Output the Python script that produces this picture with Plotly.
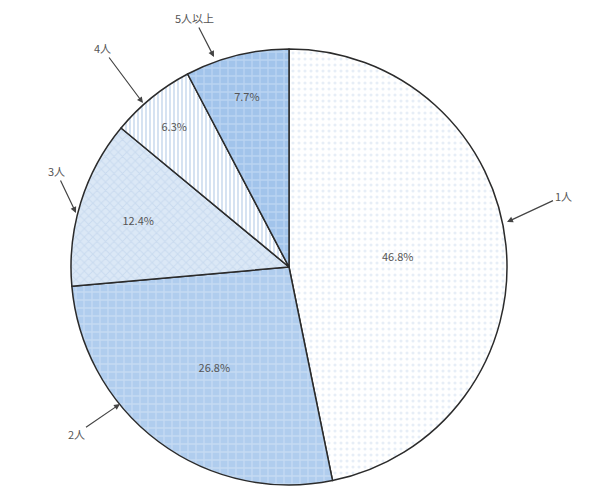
import plotly.graph_objects as go

labels = ["1人", "2人", "3人", "4人", "5人以上"]
values = [46.8, 26.8, 12.4, 6.3, 7.7]

# page offset: the browser body adds an 8px margin
OFF = 8
W, H = 593, 489

# pie centre and radius in page pixels
CX, CY, R = 289, 267, 218

# label position (page px) and arrow tip (page px) for outside labels
label_pos = {
    "1人": (563, 196),
    "2人": (76, 434),
    "3人": (56, 171),
    "4人": (102, 48),
    "5人以上": (194, 18),
}
arrow_tip = {
    "1人": (507, 222),
    "2人": (120, 404),
    "3人": (76, 213),
    "4人": (143, 103),
    "5人以上": (214, 57),
}

pie = go.Pie(
    labels=labels,
    values=values,
    sort=False,
    direction="clockwise",
    rotation=0,
    texttemplate="%{value:.1f}%",
    textposition="inside",
    insidetextorientation="horizontal",
    textfont=dict(family="Noto Sans CJK JP", size=11, color="#555555"),
    marker=dict(
        colors=["#ffffff", "#b0cdee", "#dbe8f6", "#ffffff", "#a2c4eb"],
        line=dict(color="#2b2b2b", width=1.5),
        pattern=dict(
            shape=[".", "+", "x", "|", "+"],
            bgcolor=["#ffffff", "#b0cdee", "#dbe8f6", "#ffffff", "#a2c4eb"],
            fgcolor=["#d0ddef", "#dae8f8", "#b8cee9", "#8aadd9", "#d2e4f7"],
            size=[6, 8, 6, 4, 8],
            solidity=[0.22, 0.3, 0.3, 0.35, 0.3],
            fillmode="overlay",
        ),
    ),
    domain=dict(x=[(CX - OFF - R) / W, (CX - OFF + R) / W],
                y=[(H - (CY - OFF) - R) / H, (H - (CY - OFF) + R) / H]),
    hoverinfo="label+percent",
    showlegend=False,
)

fig = go.Figure(data=[pie])

annotations = []
for lab in labels:
    lx, ly = label_pos[lab]
    tx, ty = arrow_tip[lab]
    annotations.append(dict(
        xref="paper", yref="paper",
        x=(tx - OFF) / W, y=1 - (ty - OFF) / H,
        ax=lx - tx, ay=ly - ty,
        text=lab,
        showarrow=True,
        arrowhead=2, arrowsize=1, arrowwidth=1.2,
        arrowcolor="#444444",
        font=dict(family="Noto Sans CJK JP", size=11, color="#555555"),
    ))

fig.update_layout(
    width=W, height=H,
    margin=dict(l=0, r=0, t=0, b=0),
    paper_bgcolor="white",
    plot_bgcolor="white",
    annotations=annotations,
)

fig.write_html("out.html")
